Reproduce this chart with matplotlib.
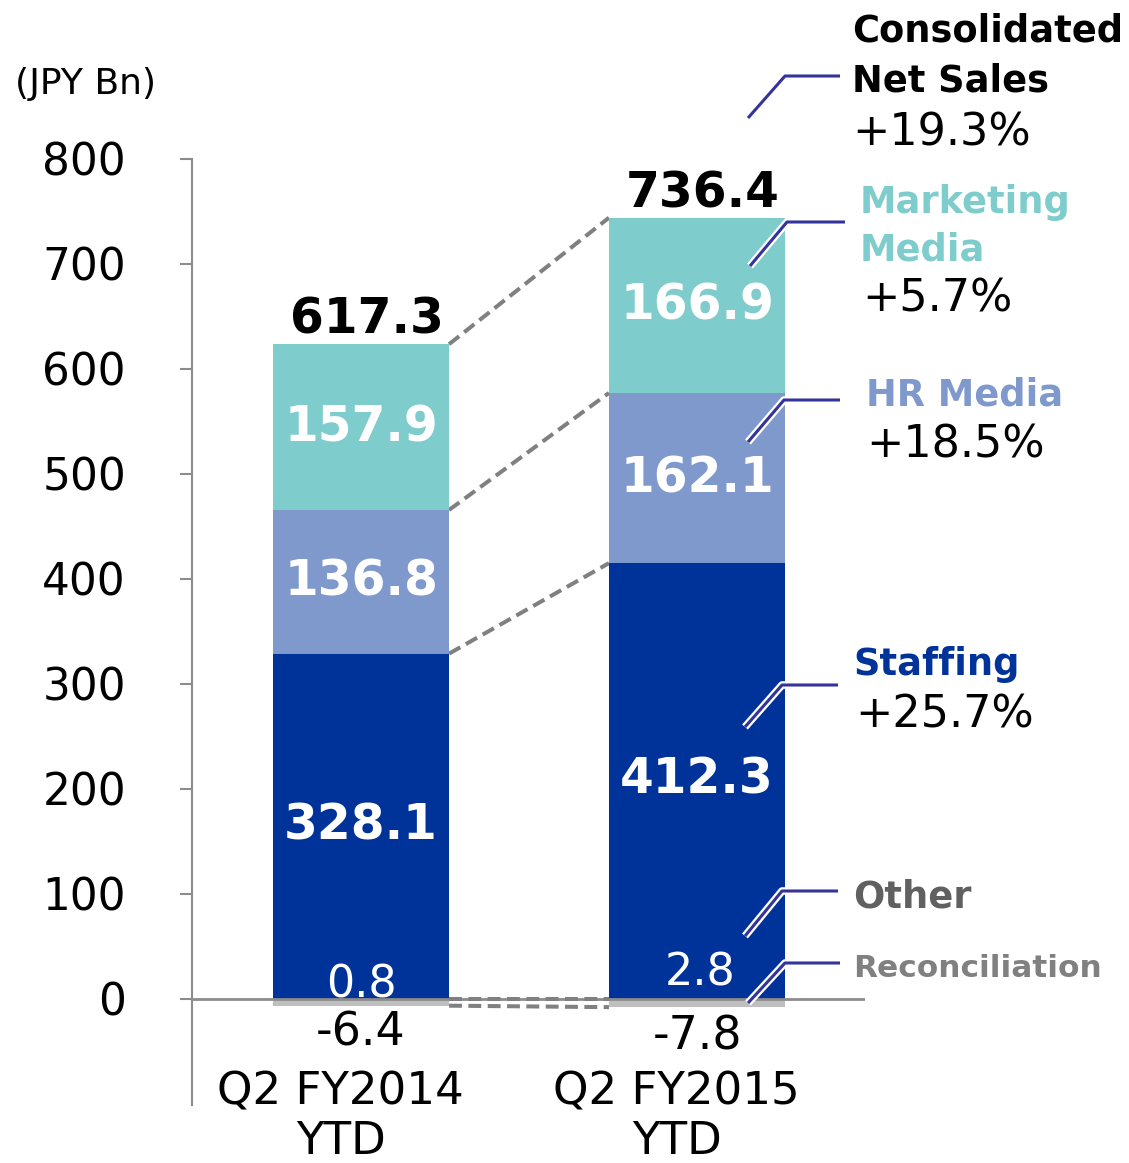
"""Recruit net sales by segment, Q2 YTD stacked bars."""
import matplotlib
matplotlib.use("Agg")
import matplotlib.pyplot as plt
from matplotlib.lines import Line2D
import matplotlib.patheffects as pe
import numpy as np

# ── Data ────────────────────────────────────────────────────────────────────
periods = ["Q2 FY2014\nYTD", "Q2 FY2015\nYTD"]
other = [0.8, 2.8]
staffing = [328.1, 412.3]
hr_media = [136.8, 162.1]
marketing = [157.9, 166.9]
reconciliation = [-6.4, -7.8]
totals = [617.3, 736.4]

seg_names = ["Consolidated\nNet Sales", "Marketing\nMedia", "HR Media",
             "Staffing", "Other", "Reconciliation"]
seg_growth = ["+19.3%", "+5.7%", "+18.5%", "+25.7%", "", ""]

# ── Style ───────────────────────────────────────────────────────────────────
C_STAFF = "#003399"
C_HR = "#7f99cc"
C_MM = "#7fcccc"
C_REC = "#bfbfbf"
C_AX = "#8c8c8c"
C_DASH = "#808080"
C_LEAD = "#333399"

W, H = 1129, 1163
fig = plt.figure(figsize=(W / 100, H / 100), dpi=100)
ax = fig.add_axes([192 / W, 1 - 1105 / H, (865 - 192) / W, (1105 - 159) / H])
ax.set_xlim(-0.503, 1.5)
ax.set_ylim(-101, 800)

x = np.arange(len(periods))
bw = 0.524

b_other = np.zeros(2)
b_staff = b_other + np.array(other)
b_hr = b_staff + np.array(staffing)
b_mm = b_hr + np.array(hr_media)
top = b_mm + np.array(marketing)

ax.bar(x, other, bw, bottom=b_other, color=C_STAFF, zorder=3)
ax.bar(x, staffing, bw, bottom=b_staff, color=C_STAFF, zorder=3)
ax.bar(x, hr_media, bw, bottom=b_hr, color=C_HR, zorder=3)
ax.bar(x, marketing, bw, bottom=b_mm, color=C_MM, zorder=3)
ax.bar(x, reconciliation, bw, bottom=0, color=C_REC, zorder=3)

ax.axhline(0, color=C_AX, lw=2, zorder=4)

# dashed connectors between the bars
xl, xr = x[0] + bw / 2, x[1] - bw / 2
for lv in [b_hr, b_mm, top]:
    ax.plot([xl, xr], lv, color=C_DASH, lw=2.9, ls=(0, (3.2, 1.6)),
            zorder=2, solid_capstyle="butt")
for lv in [np.zeros(2), np.array(reconciliation)]:
    ax.plot([xl, xr], lv, color=C_DASH, lw=2.9, ls=(0, (3.2, 1.6)),
            zorder=5, solid_capstyle="butt")

# segment labels
for i in range(2):
    ax.text(x[i], b_staff[i] + staffing[i] / 2, f"{staffing[i]:.1f}",
            ha="center", va="center", color="white", fontsize=35,
            fontweight="bold", zorder=5)
    ax.text(x[i], b_hr[i] + hr_media[i] / 2, f"{hr_media[i]:.1f}",
            ha="center", va="center", color="white", fontsize=35,
            fontweight="bold", zorder=5)
    ax.text(x[i], b_mm[i] + marketing[i] / 2, f"{marketing[i]:.1f}",
            ha="center", va="center", color="white", fontsize=35,
            fontweight="bold", zorder=5)
    ax.text(x[i] + 0.017, top[i] + 10, f"{totals[i]:.1f}",
            ha="center", va="baseline", color="black", fontsize=35,
            fontweight="bold", zorder=5)

ax.text(x[0], 1, f"{other[0]:.1f}", ha="center", va="baseline",
        color="white", fontsize=32, zorder=5)
ax.text(x[1] + 0.01, 13, f"{other[1]:.1f}", ha="center", va="baseline",
        color="white", fontsize=32, zorder=5)
ax.text(x[0], -44, f"{reconciliation[0]:.1f}", ha="center", va="baseline",
        color="black", fontsize=33, zorder=5)
ax.text(x[1], -48, f"{reconciliation[1]:.1f}", ha="center", va="baseline",
        color="black", fontsize=33, zorder=5)

# period labels
for i, lab in enumerate(periods):
    ax.text(x[i] - 0.06, -112, lab, ha="center", va="center", fontsize=32.5,
            linespacing=1.2, clip_on=False)

# axes styling
for s in ["top", "right", "bottom"]:
    ax.spines[s].set_visible(False)
ax.spines["left"].set_color(C_AX)
ax.spines["left"].set_linewidth(1.5)
ax.set_xticks([])
ax.set_yticks(range(0, 801, 100))
ax.tick_params(axis="y", direction="out", length=8.6, width=1.5,
               color=C_AX, pad=39, labelsize=31.5)
ax.set_facecolor("none")

fig.text(15 / W, 1 - 94 / H, "(JPY Bn)", ha="left", va="baseline", fontsize=26)


def px(xp, yp):
    return xp / W, 1 - yp / H


# leader lines and right-hand legend
leaders = [
    [(748, 118), (785, 76), (840, 76)],
    [(750, 266), (787, 222), (845, 222)],
    [(748, 442), (784, 400), (840, 400)],
    [(745, 727), (782, 685), (838, 685)],
    [(745, 936), (782, 891), (838, 891)],
    [(748, 1003), (785, 963), (840, 963)],
]
for pts in leaders:
    xs, ys = zip(*[px(*p) for p in pts])
    ln = Line2D(xs, ys, transform=fig.transFigure, color=C_LEAD, lw=2.2,
                solid_capstyle="butt", zorder=10,
                path_effects=[pe.Stroke(linewidth=5.5, foreground="white"),
                              pe.Normal()])
    fig.add_artist(ln)

name_colors = ["black", C_MM, C_HR, C_STAFF, "#606060", "#808080"]
name_pos = [(852, [42, 92]), (860, [213, 260]), (866, [405]),
            (853, [675]), (853, [907]), (853, [977])]
growth_pos = [(852, 145), (862, 312), (866, 458), (855, 727), None, None]

for name, g, col, (nx, bases), gp in zip(seg_names, seg_growth, name_colors,
                                         name_pos, growth_pos):
    fs = 22.5 if name == "Reconciliation" else 26.5
    for line, by in zip(name.split("\n"), bases):
        fig.text(*px(nx, by), line, ha="left", va="baseline", color=col,
                 fontsize=fs, fontweight="bold")
    if gp is not None:
        fig.text(*px(*gp), g, ha="left", va="baseline", color="black",
                 fontsize=32)

fig.savefig("out.png", dpi=100)
